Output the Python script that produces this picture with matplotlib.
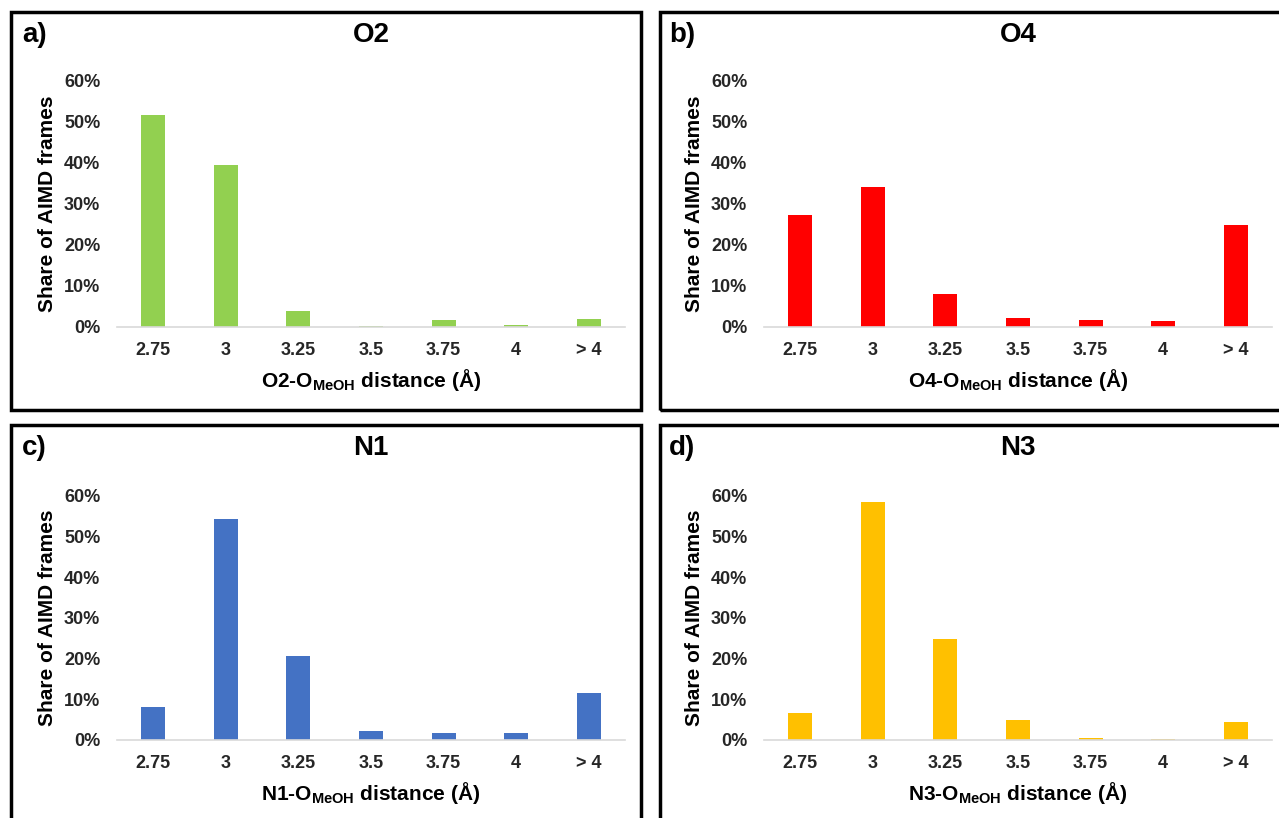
import matplotlib
matplotlib.use("Agg")
import matplotlib.pyplot as plt
from matplotlib.patches import Rectangle
from matplotlib.ticker import PercentFormatter

plt.rcParams['font.family'] = ['Liberation Sans', 'DejaVu Sans']
plt.rcParams['font.weight'] = 'bold'
plt.rcParams['mathtext.fontset'] = 'custom'
plt.rcParams['mathtext.bf'] = 'Liberation Sans:bold'
plt.rcParams['mathtext.rm'] = 'Liberation Sans:bold'

categories = ["2.75", "3", "3.25", "3.5", "3.75", "4", "> 4"]
o2_values = [0.518, 0.395, 0.039, 0.003, 0.016, 0.006, 0.020]
o4_values = [0.274, 0.341, 0.081, 0.021, 0.017, 0.015, 0.249]
n1_values = [0.080, 0.543, 0.207, 0.022, 0.016, 0.018, 0.115]
n3_values = [0.066, 0.585, 0.249, 0.048, 0.005, 0.002, 0.044]

panel_letters = ["a)", "b)", "c)", "d)"]
panel_titles = ["O2", "O4", "N1", "N3"]
panel_values = [o2_values, o4_values, n1_values, n3_values]
panel_colors = ["#92D050", "#FF0000", "#4472C4", "#FFC000"]

W, H = 1279, 818
fig = plt.figure(figsize=(W / 100, H / 100), dpi=100)
fig.patch.set_facecolor("white")

def fr(x0, y0, x1, y1):
    return [x0 / W, 1 - y1 / H, (x1 - x0) / W, (y1 - y0) / H]

frames = [(11, 12, 641, 410), (660, 12, 1284, 410), (11, 425, 641, 825), (660, 425, 1284, 825)]
for (x0, y0, x1, y1) in frames:
    fig.patches.append(Rectangle((x0 / W, 1 - y1 / H), (x1 - x0) / W, (y1 - y0) / H,
                                 transform=fig.transFigure, fill=False,
                                 edgecolor="black", linewidth=2.5, zorder=0))

# axes boxes (pixel coords): left, top(60%), right, bottom(0%)
axes_boxes = [(117, 81, 625, 327), (764, 81, 1272, 327), (117, 496, 625, 740), (764, 496, 1272, 740)]

for i in range(4):
    x0, y0, x1, y1 = axes_boxes[i]
    ax = fig.add_axes(fr(x0, y0, x1, y1))
    xs = list(range(len(categories)))
    ax.bar(xs, panel_values[i], width=0.33, color=panel_colors[i], zorder=2)
    ax.set_xlim(-0.5, len(categories) - 0.5)
    ax.set_ylim(0, 0.6)
    ax.set_yticks([0, 0.1, 0.2, 0.3, 0.4, 0.5, 0.6])
    ax.yaxis.set_major_formatter(PercentFormatter(1.0, decimals=0))
    ax.set_xticks(xs)
    ax.set_xticklabels(categories)
    for s in ["top", "right", "left"]:
        ax.spines[s].set_visible(False)
    ax.spines["bottom"].set_color("#D9D9D9")
    ax.spines["bottom"].set_linewidth(1.2)
    ax.tick_params(axis="both", length=0, labelsize=13, colors="#262626")
    ax.tick_params(axis="y", pad=12)
    ax.tick_params(axis="x", pad=11)
    for lab in ax.get_xticklabels() + ax.get_yticklabels():
        lab.set_fontweight("bold")
    ax.set_facecolor("none")
    h = y1 - y0
    w = x1 - x0
    ax.set_ylabel("Share of AIMD frames", fontsize=15, fontweight="bold")
    ax.yaxis.set_label_coords((57 - 117) / w, 0.5)
    name = panel_titles[i]
    ax.set_xlabel(name + r"-O$_{\mathbf{MeOH}}$ distance (Å)", fontsize=15, fontweight="bold")
    ax.xaxis.set_label_coords(0.5, -(367 - 327) / h)
    ax.text(0.5, (327 - 35) / h, name, transform=ax.transAxes, ha="center", va="center",
            fontsize=20, fontweight="bold")
    ax.text((22 - 117) / w, (327 - 35) / h, panel_letters[i], transform=ax.transAxes,
            ha="left", va="center", fontsize=20, fontweight="bold")

fig.savefig("out.png", dpi=100)
